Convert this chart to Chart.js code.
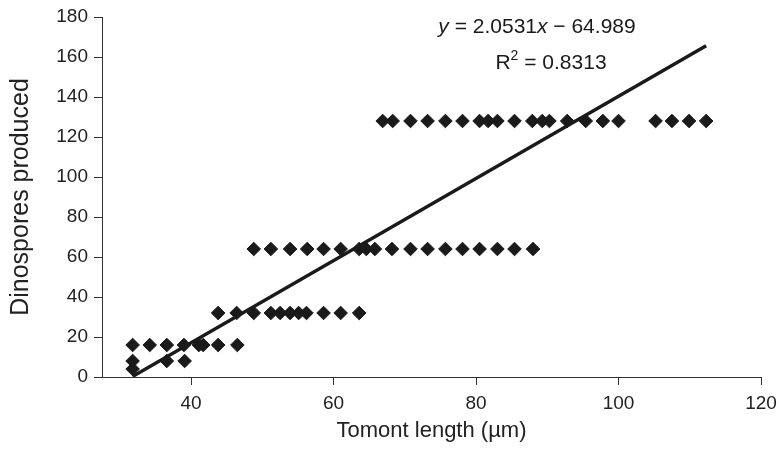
<!DOCTYPE html>
<html>
<head>
<meta charset="utf-8">
<script src="https://cdn.jsdelivr.net/npm/chart.js@4.4.1/dist/chart.umd.min.js"></script>
<style>
  body { margin: 0; background: #fff; }
  canvas { display: block; }
</style>
</head>
<body>
<canvas id="chart" width="779" height="449"></canvas>
<script>
// tomont length (µm) vs dinospores produced
const tomontLength = [
  31.8,
  31.8, 36.6, 39.1,
  31.8, 34.2, 36.6, 39.0, 41.1, 41.7, 43.8, 46.5,
  43.8, 46.4, 48.8, 51.2, 52.5, 53.9, 55.1, 56.2, 58.6, 61.0, 63.6,
  48.8, 51.2, 53.9, 56.3, 58.6, 61.0, 63.6, 64.6, 65.8, 68.2, 70.8, 73.2,
  75.7, 78.1, 80.5, 83.0, 85.4, 88.0,
  66.9, 68.3, 70.8, 73.2, 75.7, 78.1, 80.5, 81.7, 83.0, 85.4, 87.9, 89.3,
  90.3, 92.8, 95.4, 97.8, 100.0, 105.2, 107.5, 109.9, 112.3
];
const dinospores = [
  4,
  8, 8, 8,
  16, 16, 16, 16, 16, 16, 16, 16,
  32, 32, 32, 32, 32, 32, 32, 32, 32, 32, 32,
  64, 64, 64, 64, 64, 64, 64, 64, 64, 64, 64, 64,
  64, 64, 64, 64, 64, 64,
  128, 128, 128, 128, 128, 128, 128, 128, 128, 128, 128, 128,
  128, 128, 128, 128, 128, 128, 128, 128, 128
];

// linear trend line ends (y = 2.0531x - 64.989)
const trendX = [31.8, 112.3];
const trendY = [0.3, 165.6];

const xTicks = [40, 60, 80, 100, 120];
const INK = "#1a1a1a";
const FONT = "'Liberation Sans', Arial, Helvetica, sans-serif";

const points = tomontLength.map((x, i) => ({ x: x, y: dinospores[i] }));
const trend = trendX.map((x, i) => ({ x: x, y: trendY[i] }));

const equationLabel = {
  id: "equationLabel",
  afterDraw(chart) {
    const ctx = chart.ctx;
    ctx.save();
    ctx.fillStyle = INK;
    ctx.textBaseline = "middle";
    ctx.textAlign = "left";

    const parts = [
      ["italic", "y"],
      ["normal", " = 2.0531"],
      ["italic", "x"],
      ["normal", " \u2212 64.989"],
    ];
    let total = 0;
    parts.forEach(([style, txt]) => {
      ctx.font = `${style} 21px ${FONT}`;
      total += ctx.measureText(txt).width;
    });
    let x = 537 - total / 2;
    parts.forEach(([style, txt]) => {
      ctx.font = `${style} 21px ${FONT}`;
      ctx.fillText(txt, x, 27);
      x += ctx.measureText(txt).width;
    });

    // R² with a small raised 2
    ctx.font = `21px ${FONT}`;
    const rW = ctx.measureText("R").width;
    const restW = ctx.measureText(" = 0.8313").width;
    ctx.font = `14px ${FONT}`;
    const supW = ctx.measureText("2").width;
    let rx = 551 - (rW + supW + restW) / 2;
    ctx.font = `21px ${FONT}`;
    ctx.fillText("R", rx, 63);
    rx += rW;
    ctx.font = `14px ${FONT}`;
    ctx.fillText("2", rx, 56);
    rx += supW;
    ctx.font = `21px ${FONT}`;
    ctx.fillText(" = 0.8313", rx, 63);
    ctx.restore();
  },
};

new Chart(document.getElementById("chart"), {
  type: "scatter",
  data: {
    datasets: [
      {
        label: "Dinospores",
        data: points,
        pointStyle: "rectRot",
        pointRadius: 6.8,
        backgroundColor: INK,
        borderColor: INK,
        borderWidth: 1,
      },
      {
        type: "line",
        label: "Trend",
        data: trend,
        borderColor: INK,
        borderWidth: 3.5,
        pointRadius: 0,
        fill: false,
      },
    ],
  },
  options: {
    responsive: false,
    animation: false,
    layout: { padding: { top: 17, right: 18, bottom: 0, left: 0 } },
    plugins: {
      legend: { display: false },
      tooltip: { enabled: false },
    },
    scales: {
      x: {
        type: "linear",
        min: 27.5,
        max: 120,
        afterBuildTicks: (axis) => {
          axis.ticks = xTicks.map((v) => ({ value: v }));
        },
        afterFit: (axis) => {
          axis.height = 72;
          axis.paddingLeft = 0;
          axis.paddingRight = 0;
        },
        grid: {
          drawOnChartArea: false,
          drawTicks: true,
          tickLength: 8,
          color: "#333",
        },
        border: { display: true, color: "#333", width: 1 },
        ticks: {
          font: { size: 19, family: FONT },
          color: "#222",
          padding: 7,
          maxRotation: 0,
        },
        title: {
          display: true,
          text: "Tomont length (µm)",
          font: { size: 22, family: FONT },
          color: "#222",
          padding: { top: 0, bottom: 5 },
        },
      },
      y: {
        min: 0,
        max: 180,
        afterFit: (axis) => {
          axis.width = 102;
          axis.paddingTop = 0;
          axis.paddingBottom = 0;
        },
        grid: {
          drawOnChartArea: false,
          drawTicks: true,
          tickLength: 8,
          color: "#333",
        },
        border: { display: true, color: "#333", width: 1 },
        ticks: {
          stepSize: 20,
          font: { size: 19, family: FONT },
          color: "#222",
          padding: 6,
        },
        title: {
          display: true,
          text: "Dinospores produced",
          font: { size: 25, family: FONT },
          color: "#222",
          padding: { top: 6, bottom: 0 },
        },
      },
    },
  },
  plugins: [equationLabel],
});
</script>
</body>
</html>
